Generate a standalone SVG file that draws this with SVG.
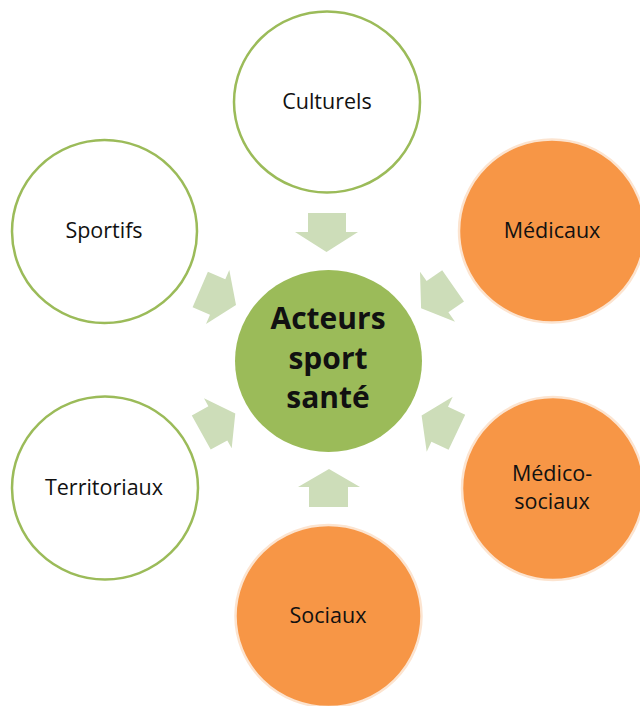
<svg xmlns="http://www.w3.org/2000/svg" width="640" height="706" viewBox="0 0 640 706">
<style>
.bg{fill:#ffffff}
.ring{fill:#ffffff;stroke:#9BBB59;stroke-width:2.5}
.org{fill:#F79646;stroke:#FCE4D0;stroke-width:2.5}
.hub{fill:#9BBB59}
.arr{fill:#CDDDB9}
.lbl{font-family:"Open Sans","Noto Sans","Liberation Sans",sans-serif;font-size:21.5px;fill:#111111;text-anchor:middle}
.hubt{font-family:"Open Sans","Noto Sans","Liberation Sans",sans-serif;font-size:30px;font-weight:bold;fill:#111111;text-anchor:middle}
</style>
<rect class="bg" x="0" y="0" width="640" height="706"/>
<g id="connectors">
<polygon class="arr" points="308,213 346,213 346,232 358,232 326.5,252 295,232 308,232"/>
<polygon class="arr" points="309,507 348,507 348,487 360,487 329,469 298,487 309,487"/>
<polygon class="arr" points="207.9,271.7 225.3,279.2 229.3,270 236,304.9 206,324 210,314.8 192.6,307.3"/>
<polygon class="arr" points="442.2,270.2 426.6,281.1 420,271.7 421.1,308.2 455,321.7 448.4,312.3 464,301.4"/>
<polygon class="arr" points="191.8,415.4 208.4,406.2 204,398.3 235.3,413.6 231.7,448.3 227.3,440.4 210.7,449.6"/>
<polygon class="arr" points="465.2,414.8 448,406.7 452.7,396.7 421.6,415.6 426.7,451.7 431.4,441.7 448.6,449.8"/>
</g>
<g id="culturels">
<ellipse class="ring" cx="327" cy="102" rx="93" ry="90.5"/>
<text class="lbl" x="327" y="109">Culturels</text>
</g>
<g id="sportifs">
<ellipse class="ring" cx="104.5" cy="231.5" rx="92.5" ry="91.5"/>
<text class="lbl" x="104" y="238">Sportifs</text>
</g>
<g id="medicaux">
<ellipse class="org" cx="552" cy="231" rx="93" ry="91.5"/>
<text class="lbl" x="552" y="238">Médicaux</text>
</g>
<g id="territoriaux">
<ellipse class="ring" cx="105" cy="488" rx="93" ry="91.5"/>
<text class="lbl" x="104" y="495">Territoriaux</text>
</g>
<g id="medico-sociaux">
<ellipse class="org" cx="553" cy="488.5" rx="91" ry="91.5"/>
<text class="lbl" x="552" y="481">Médico-</text>
<text class="lbl" x="552" y="509">sociaux</text>
</g>
<g id="sociaux">
<ellipse class="org" cx="328.5" cy="616" rx="93" ry="91"/>
<text class="lbl" x="328" y="623">Sociaux</text>
</g>
<g id="acteurs">
<ellipse class="hub" cx="328.5" cy="361" rx="93.5" ry="91"/>
<text class="hubt" x="328" y="329">Acteurs</text>
<text class="hubt" x="328" y="369">sport</text>
<text class="hubt" x="328" y="408">santé</text>
</g>
</svg>
